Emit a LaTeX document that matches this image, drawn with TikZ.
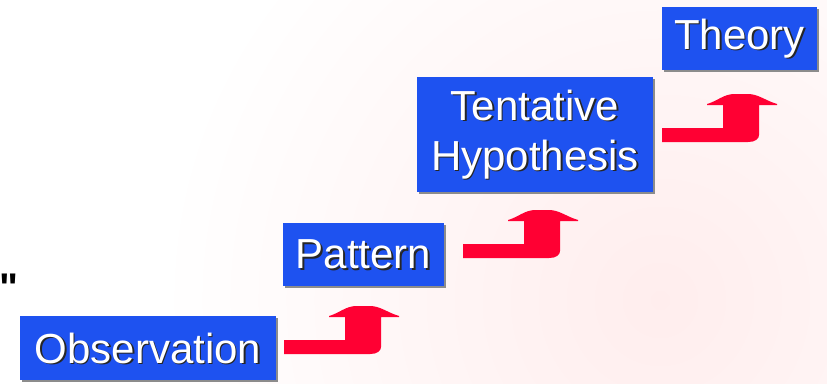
\documentclass[tikz,border=0pt]{standalone}
\usepackage{fontspec}
\setmainfont{Liberation Sans}
\newfontfamily\qfont{Liberation Sans}
\usetikzlibrary{shadows}
\definecolor{boxblue}{HTML}{1E52F0}
\definecolor{arrred}{HTML}{FF0033}
\begin{document}
\begin{tikzpicture}[x=1pt,y=-1pt,
  box/.style={fill=boxblue, inner sep=0pt, draw=none,
    drop shadow={shadow xshift=1.5pt, shadow yshift=-1.5pt, fill=black!45, opacity=1}},
  shadowtxt/.style={text=black!85, font=\fontsize{42}{50}\selectfont, align=center, inner sep=0pt},
  whitetxt/.style={text=white, font=\fontsize{42}{50}\selectfont, align=center, inner sep=0pt},
  uparrow/.pic={\fill[arrred] (0,0) -- (61,0) -- (61,-23) -- (45,-23) -- (45,-24)
     .. controls (55,-27) and (62,-34) .. (72,-34) -- (86,-34)
     .. controls (96,-34) and (104,-27) .. (115,-24) -- (115,-23) -- (97,-23) -- (97,6)
     .. controls (97,11) and (93,14) .. (86,14) -- (0,14) -- cycle;}
]
\useasboundingbox (0,0) rectangle (827,383);
\begin{scope}
  \clip (0,0) rectangle (827,383);
  \fill[white] (0,0) rectangle (827,383);
  \shade[inner color=red!7, outer color=white] (660,300) circle (500);
\end{scope}

% stray quote mark at left edge
\node[font=\qfont\bfseries\fontsize{40}{44}\selectfont, inner sep=0pt, anchor=base] (quote) at (9,301) {"};

% boxes
\node[box, minimum width=256pt, minimum height=64pt] (obs) at (148,348) {};
\node[box, minimum width=161pt, minimum height=63pt] (pat) at (363.5,254.5) {};
\node[box, minimum width=236pt, minimum height=115pt] (hyp) at (535,134.5) {};
\node[box, minimum width=155pt, minimum height=63pt] (theo) at (739.5,38.5) {};

% texts with shadow
\node[shadowtxt] (obsS) at ([shift={(1.5,1.5)}]obs.center) {Observation};
\node[whitetxt] (obsT) at (obs.center) {Observation};
\node[shadowtxt] (patS) at ([shift={(1.5,1.5)}]pat.center) {Pattern};
\node[whitetxt] (patT) at (pat.center) {Pattern};
\node[shadowtxt] (hypS) at ([shift={(1.5,1.5)}]hyp.center) {Tentative\\Hypothesis};
\node[whitetxt] (hypT) at (hyp.center) {Tentative\\Hypothesis};
\node[shadowtxt] (theoS) at ([shift={(1.5,1.5)}]theo.center) {Theory};
\node[whitetxt] (theoT) at (theo.center) {Theory};

% stepped arrows
\pic at ([shift={(8,-8)}]obs.east) {uparrow};
\pic at ([shift={(19,-10.5)}]pat.east) {uparrow};
\pic at ([shift={(9,-6.5)}]hyp.east) {uparrow};
\end{tikzpicture}
\end{document}
